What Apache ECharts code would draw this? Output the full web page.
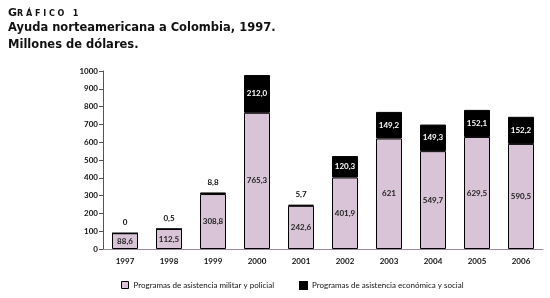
<!DOCTYPE html>
<html><head><meta charset="utf-8">
<script src="https://cdn.jsdelivr.net/npm/echarts@6/dist/echarts.min.js"></script>
<style>html,body{margin:0;padding:0;background:#fff}#c{width:550px;height:298px}</style>
</head><body><div id="c"></div>
<script>
const years = ['1997','1998','1999','2000','2001','2002','2003','2004','2005','2006'];
const militar = [88.6,112.5,308.8,765.3,242.6,401.9,621,549.7,629.5,590.5];
const economica = [0,0.5,8.8,212.0,5.7,120.3,149.2,149.3,152.1,152.2];
const militarLabels = ['88,6','112,5','308,8','765,3','242,6','401,9','621','549,7','629,5','590,5'];
const economicaLabels = ['0','0,5','8,8','212,0','5,7','120,3','149,2','149,3','152,1','152,2'];
const yTicks = [0,100,200,300,400,500,600,700,800,900,1000];
const serieNames = ['Programas de asistencia militar y policial','Programas de asistencia económica y social'];

const chart = echarts.init(document.getElementById('c'));
const font = 'Lato';
const pink = '#d8c4d6';

chart.setOption({
  animation: false,
  title: [
    {text: '{a|G}{b|R Á F I C O   1}', left: 3, top: 3, textStyle: {rich: {
      a: {fontFamily: 'DejaVu Sans', fontWeight: 'bold', fontSize: 11, color: '#111'},
      b: {fontFamily: 'DejaVu Sans', fontWeight: 'bold', fontSize: 8, color: '#111'}}}},
    {text: 'Ayuda norteamericana a Colombia, 1997.', left: 3, top: 17,
      textStyle: {fontFamily: 'DejaVu Sans', fontWeight: 'bold', fontSize: 11.5, color: '#111'}},
    {text: 'Millones de dólares.', left: 3, top: 34,
      textStyle: {fontFamily: 'DejaVu Sans', fontWeight: 'bold', fontSize: 11.5, color: '#111'}}
  ],
  legend: [
    {data: [{name: serieNames[0], icon: 'rect', itemStyle: {color: pink, borderColor: '#000', borderWidth: 1}}],
      left: 116, top: 276, itemWidth: 7, itemHeight: 7, itemGap: 4,
      textStyle: {fontFamily: font, fontSize: 8, color: '#111'}},
    {data: [{name: serieNames[1], icon: 'rect'}],
      left: 294, top: 276, itemWidth: 7, itemHeight: 7, itemGap: 4,
      textStyle: {fontFamily: font, fontSize: 8, color: '#111'}}
  ],
  grid: {left: 103, right: 7, top: 71, bottom: 49},
  xAxis: {
    type: 'category', data: years,
    axisLine: {lineStyle: {color: '#9a8a9a', width: 1}},
    axisTick: {length: 3, lineStyle: {color: '#555'}},
    axisLabel: {fontFamily: font, fontSize: 8, fontWeight: 'bold', color: '#111', margin: 8}
  },
  yAxis: {
    type: 'value', min: yTicks[0], max: yTicks[yTicks.length-1], interval: 100,
    splitLine: {show: false},
    axisLine: {show: true, lineStyle: {color: '#555'}},
    axisTick: {show: true, length: 4, lineStyle: {color: '#555'}},
    axisLabel: {fontFamily: font, fontSize: 8, fontWeight: 'bold', color: '#111', margin: 5,
      formatter: v => String(v)}
  },
  series: [
    {
      name: serieNames[0], type: 'bar', stack: 't', barWidth: 26,
      itemStyle: {color: pink, borderColor: '#000', borderWidth: 1},
      label: {show: true, position: 'inside', fontFamily: font, fontSize: 8, fontWeight: 'bold', color: '#222',
        formatter: p => militarLabels[p.dataIndex]},
      data: militar
    },
    {
      name: serieNames[1], type: 'bar', stack: 't', barWidth: 26,
      itemStyle: {color: '#000', borderColor: '#000', borderWidth: 1},
      data: economica.map((v, i) => ({
        value: v,
        label: v < 50
          ? {show: true, position: 'top', distance: 6, color: '#111', fontFamily: font, fontSize: 8, fontWeight: 'bold',
             formatter: () => economicaLabels[i]}
          : {show: true, position: 'inside', color: '#fff', fontFamily: font, fontSize: 8, fontWeight: 'bold',
             formatter: () => economicaLabels[i]}
      }))
    }
  ]
});
</script></body></html>
